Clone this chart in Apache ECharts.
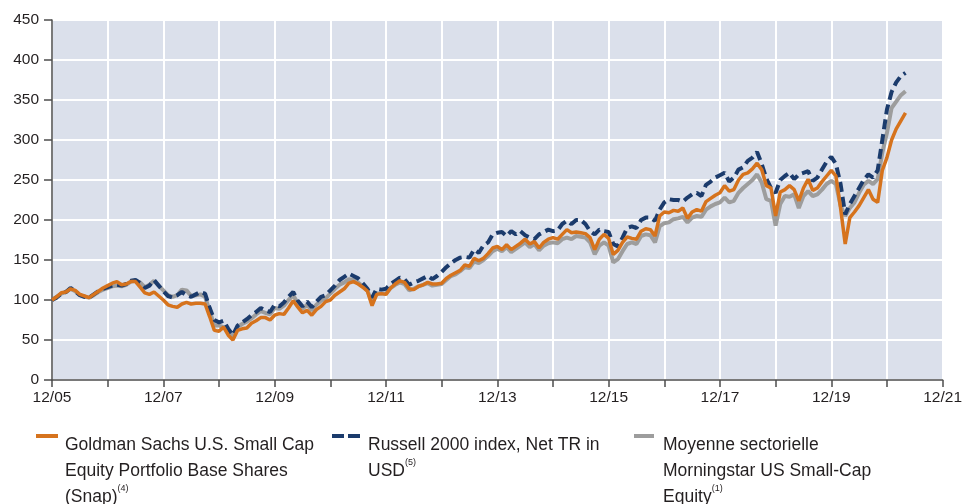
<!DOCTYPE html>
<html>
<head>
<meta charset="utf-8">
<script src="https://cdn.jsdelivr.net/npm/echarts@6/dist/echarts.min.js"></script>
<style>
html,body{margin:0;padding:0;background:#fff;}
#chart{width:965px;height:504px;}
</style>
</head>
<body>
<div id="chart"></div>
<script>
// x tick labels (one per December, every year)
var xTickLabels = ['12/05','12/06','12/07','12/08','12/09','12/10','12/11','12/12','12/13','12/14','12/15','12/16','12/17','12/18','12/19','12/20','12/21'];
var yTicks = [0,50,100,150,200,250,300,350,400,450];

// monthly values, month 0 = 12/05
var goldman = [
100,104,109,110,114,112,107,105,103,107,
111,115,118,121,123,119,120,123,123,116,
109,107,110,105,100,94,92,91,95,97,
95,96,96,95,79,62,61,66,56,50,
62,64,65,71,74,78,78,75,81,83,
82,90,99,91,84,87,81,88,92,98,
100,106,110,114,121,123,120,116,111,93,
107,108,107,115,120,124,122,114,113,117,
119,122,120,120,121,127,131,134,137,144,
142,152,149,152,158,165,167,163,169,163,
167,171,176,170,173,165,172,176,178,176,
182,188,184,185,184,183,178,163,176,182,
177,157,162,172,179,177,176,186,189,188,
180,205,210,209,212,211,215,202,210,213,
211,223,227,231,234,243,236,238,250,257,
259,264,271,263,243,240,205,235,238,243,
238,224,240,251,237,240,248,255,262,255,
215,170,203,210,218,228,238,226,222,262,
278,300,314,324,334
];
var russell = [
100,103,108,110,115,111,106,104,103,107,
111,114,116,118,119,118,120,124,125,121,
115,118,125,118,111,105,103,106,110,106,
104,107,110,108,90,75,72,74,64,56,
68,72,76,81,85,90,87,85,94,92,
97,104,110,99,92,98,91,98,104,106,
112,118,125,129,133,130,127,121,114,103,
114,113,114,120,124,128,126,119,122,124,
127,130,126,130,135,141,146,150,153,154,
153,163,159,168,172,182,184,185,180,186,
182,186,181,178,176,182,185,188,186,187,
195,199,195,200,200,195,186,182,188,186,
185,170,167,178,190,192,190,200,203,203,
199,213,222,226,225,225,223,228,232,234,
230,244,248,253,256,259,248,253,263,266,
274,278,285,270,252,240,234,250,255,259,
251,257,259,261,249,253,263,273,279,270,
245,207,220,230,240,250,257,253,262,300,
338,360,372,380,384
];
var morningstar = [
100,104,108,110,114,111,106,104,103,106,
110,113,115,117,118,117,119,123,124,122,
116,119,124,118,112,106,104,106,113,112,
105,106,107,104,86,68,68,66,60,54,
66,70,73,77,82,86,84,82,90,89,
93,100,106,96,89,94,87,94,99,102,
108,114,119,122,126,125,122,117,112,96,
108,108,108,115,119,122,120,112,114,117,
119,121,118,119,120,125,130,132,136,141,
140,148,146,150,155,161,164,161,166,160,
164,168,172,166,170,162,168,171,172,171,
176,178,176,180,179,178,172,157,168,172,
168,147,151,161,170,172,170,180,182,181,
172,192,196,197,201,202,204,197,203,205,
204,213,217,220,222,228,222,224,234,240,
245,250,257,247,226,224,193,220,230,229,
232,215,230,236,230,232,238,245,249,245,
218,205,215,222,234,244,249,245,251,284,
309,340,348,356,361
];

function pairs(arr){ return arr.map(function(v,i){ return [i, v]; }); }

var ORANGE = '#d6731d', NAVY = '#1b3b6c', GREY = '#9d9d9d';
var FONT = "'Liberation Sans', Arial, sans-serif";
var TXT = '#231f20';

var chart = echarts.init(document.getElementById('chart'), null, {renderer:'canvas'});
var legendText = {
  font: '17.5px ' + FONT,
  fill: TXT,
  lineHeight: 26,
  textVerticalAlign: 'top',
  verticalAlign: 'top',
  rich: {
    sup: {fontSize: 9, fontFamily: FONT, fill: TXT, color: TXT, verticalAlign: 'top', lineHeight: 22}
  }
};
function lt(text){ return Object.assign({}, legendText, {text: text}); }

chart.setOption({
  animation: false,
  backgroundColor: '#ffffff',
  grid: {left: 52, right: 19, top: 20, bottom: 124, show: true, backgroundColor: '#dbe0eb', borderWidth: 0},
  xAxis: {
    type: 'value', min: 0, max: (xTickLabels.length - 1) * 12, interval: 12,
    axisLine: {show: true, onZero: false, lineStyle: {color: '#4d4d4d', width: 1.5}},
    axisTick: {show: true, length: 7, lineStyle: {color: '#4d4d4d', width: 1.5}},
    splitLine: {show: true, lineStyle: {color: '#ffffff', width: 2}},
    axisLabel: {
      margin: 10, color: TXT, fontSize: 15.5, fontFamily: FONT,
      showMinLabel: true, showMaxLabel: true,
      formatter: function(v){ var i = Math.round(v / 12); return (i % 2 === 0) ? xTickLabels[i] : ''; }
    }
  },
  yAxis: {
    type: 'value', min: yTicks[0], max: yTicks[yTicks.length - 1], interval: 50,
    axisLine: {show: true, lineStyle: {color: '#4d4d4d', width: 1.5}},
    axisTick: {show: true, length: 8, lineStyle: {color: '#4d4d4d', width: 1.5}},
    splitLine: {show: true, lineStyle: {color: '#ffffff', width: 2}},
    axisLabel: {margin: 13, color: TXT, fontSize: 15.5, fontFamily: FONT}
  },
  series: [
    {name: 'Moyenne sectorielle Morningstar US Small-Cap Equity', type: 'line', data: pairs(morningstar),
      showSymbol: false, symbol: 'none', lineStyle: {color: GREY, width: 4}, itemStyle: {color: GREY}, z: 2},
    {name: 'Russell 2000 index, Net TR in USD', type: 'line', data: pairs(russell),
      showSymbol: false, symbol: 'none', lineStyle: {color: NAVY, width: 4, type: [10, 5]}, itemStyle: {color: NAVY}, z: 3},
    {name: 'Goldman Sachs U.S. Small Cap Equity Portfolio Base Shares (Snap)', type: 'line', data: pairs(goldman),
      showSymbol: false, symbol: 'none', lineStyle: {color: ORANGE, width: 3.5}, itemStyle: {color: ORANGE}, z: 4}
  ],
  graphic: [
    {type: 'rect', shape: {x: 36, y: 434, width: 22, height: 4}, style: {fill: ORANGE}},
    {type: 'text', x: 65, y: 432, style: lt('Goldman Sachs U.S. Small Cap\nEquity Portfolio Base Shares\n(Snap){sup|(4)}')},
    {type: 'rect', shape: {x: 332, y: 434, width: 12, height: 4}, style: {fill: NAVY}},
    {type: 'rect', shape: {x: 348, y: 434, width: 12, height: 4}, style: {fill: NAVY}},
    {type: 'text', x: 368, y: 432, style: lt('Russell 2000 index, Net TR in\nUSD{sup|(5)}')},
    {type: 'rect', shape: {x: 634, y: 434, width: 20, height: 4}, style: {fill: GREY}},
    {type: 'text', x: 663, y: 432, style: lt('Moyenne sectorielle\nMorningstar US Small-Cap\nEquity{sup|(1)}')}
  ]
});
</script>
</body>
</html>
